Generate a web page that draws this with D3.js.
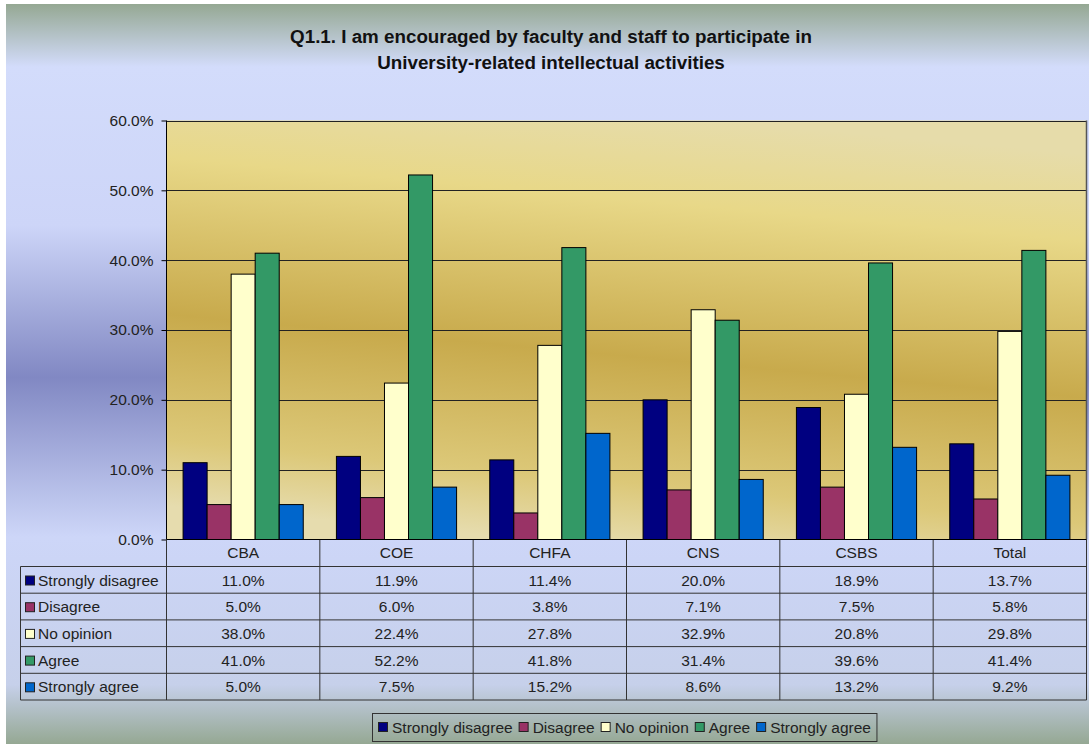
<!DOCTYPE html>
<html>
<head>
<meta charset="utf-8">
<script src="https://cdn.jsdelivr.net/npm/d3@7"></script>
<style>
  body { margin: 0; background: #fff; }
  svg { display: block; font-family: "Liberation Sans", Arial, sans-serif; }
</style>
</head>
<body>
<svg id="chart" width="1089" height="744"></svg>
<script>
var categories = ["CBA", "COE", "CHFA", "CNS", "CSBS", "Total"];
var seriesNames = ["Strongly disagree", "Disagree", "No opinion", "Agree", "Strongly agree"];
var stronglyDisagree = [11.0, 11.9, 11.4, 20.0, 18.9, 13.7];
var disagree = [5.0, 6.0, 3.8, 7.1, 7.5, 5.8];
var noOpinion = [38.0, 22.4, 27.8, 32.9, 20.8, 29.8];
var agree = [41.0, 52.2, 41.8, 31.4, 39.6, 41.4];
var stronglyAgree = [5.0, 7.5, 15.2, 8.6, 13.2, 9.2];
var yTicks = [0, 10, 20, 30, 40, 50, 60];
var colors = ["#000080", "#993366", "#ffffcc", "#339966", "#0066cc"];

var values = [stronglyDisagree, disagree, noOpinion, agree, stronglyAgree];

var svg = d3.select("#chart");
var defs = svg.append("defs");

// outer background gradient
var bg = defs.append("linearGradient").attr("id", "bg")
    .attr("x1", 0).attr("y1", 0).attr("x2", 0).attr("y2", 1);
[[0, "#95a893"], [0.085, "#d3dcfb"], [0.3, "#cdd5f8"], [0.505, "#8188c3"],
 [0.72, "#cdd6f8"], [0.92, "#c6d0ea"], [1, "#95a893"]].forEach(function(s) {
  bg.append("stop").attr("offset", s[0]).attr("stop-color", s[1]);
});

// plot area gradient
var pg = defs.append("linearGradient").attr("id", "plotbg")
    .attr("x1", 0.6).attr("y1", 0).attr("x2", 0.4).attr("y2", 1);
[[0, "#e6dcaa"], [0.2, "#e8d888"], [0.56, "#c8aa4c"], [0.85, "#dcc878"], [1, "#e6dcae"]].forEach(function(s) {
  pg.append("stop").attr("offset", s[0]).attr("stop-color", s[1]);
});

svg.append("rect").attr("x", 6).attr("y", 4).attr("width", 1083).attr("height", 740)
    .attr("fill", "url(#bg)");

var plotLeft = 166.5, plotRight = 1086.5, plotTop = 120.5, plotBottom = 539.5;
var fs = 15.5;

var x = d3.scaleBand().domain(categories).range([plotLeft, plotRight]).padding(0);
var xs = d3.scaleBand().domain(seriesNames).range([0, x.bandwidth()])
    .paddingInner(0).paddingOuter(0.69);
var y = d3.scaleLinear().domain([0, 60]).range([plotBottom, plotTop]);

// title
svg.append("text").attr("x", 551).attr("y", 43).attr("text-anchor", "middle")
    .attr("font-weight", "bold").attr("font-size", 18.8).attr("fill", "#111")
    .text("Q1.1. I am encouraged by faculty and staff to participate in");
svg.append("text").attr("x", 551).attr("y", 69).attr("text-anchor", "middle")
    .attr("font-weight", "bold").attr("font-size", 18.8).attr("fill", "#111")
    .text("University-related intellectual activities");

// plot area
svg.append("rect").attr("x", plotLeft).attr("y", plotTop)
    .attr("width", plotRight - plotLeft).attr("height", plotBottom - plotTop)
    .attr("fill", "url(#plotbg)");

svg.append("g").selectAll("line").data(yTicks.slice(1)).enter().append("line")
    .attr("x1", plotLeft).attr("x2", plotRight)
    .attr("y1", function(d) { return Math.round(y(d)) + 0.5; })
    .attr("y2", function(d) { return Math.round(y(d)) + 0.5; })
    .attr("stroke", "#222").attr("stroke-width", 1);

svg.append("line").attr("x1", plotRight).attr("x2", plotRight).attr("y1", plotTop).attr("y2", plotBottom)
    .attr("stroke", "#555").attr("stroke-width", 1.5);

// bars
var groups = svg.append("g").selectAll("g").data(seriesNames).enter().append("g")
    .attr("fill", function(d, i) { return colors[i]; });
groups.selectAll("rect")
    .data(function(d, i) { return values[i].map(function(v, j) { return {s: d, c: categories[j], v: v}; }); })
    .enter().append("rect")
    .attr("x", function(d) { return x(d.c) + xs(d.s); })
    .attr("y", function(d) { return y(d.v); })
    .attr("width", xs.bandwidth())
    .attr("height", function(d) { return plotBottom - y(d.v); })
    .attr("stroke", "#000").attr("stroke-width", 1);

// y axis
var yAxis = d3.axisLeft(y).tickValues(yTicks).tickSize(5).tickPadding(8)
    .tickFormat(function(d) { return d.toFixed(1) + "%"; });
var ya = svg.append("g").attr("transform", "translate(" + plotLeft + ",0)").call(yAxis);
ya.select(".domain").attr("stroke", "#000").attr("d", "M0," + plotTop + "V" + plotBottom);
ya.selectAll(".tick line").attr("stroke", "#000");
ya.selectAll("text").attr("font-size", fs).attr("fill", "#222")
    .attr("font-family", "Liberation Sans, Arial, sans-serif");

// data table
var tableLeft = 20.5, headTop = plotBottom, rowTop = 566.5, rowH = 26.7;
var tableBottom = rowTop + rowH * 5;
var tg = svg.append("g").attr("stroke", "#333").attr("stroke-width", 1).attr("fill", "none");
tg.append("line").attr("x1", plotLeft).attr("x2", plotLeft).attr("y1", headTop).attr("y2", tableBottom);
categories.forEach(function(c) {
  tg.append("line").attr("x1", x(c) + x.bandwidth()).attr("x2", x(c) + x.bandwidth())
      .attr("y1", headTop).attr("y2", tableBottom);
});
tg.append("line").attr("x1", tableLeft).attr("x2", tableLeft).attr("y1", rowTop).attr("y2", tableBottom);
d3.range(6).forEach(function(i) {
  tg.append("line").attr("x1", tableLeft).attr("x2", plotRight)
      .attr("y1", rowTop + rowH * i).attr("y2", rowTop + rowH * i);
});
tg.append("line").attr("x1", plotLeft).attr("x2", plotRight).attr("y1", plotBottom).attr("y2", plotBottom)
    .attr("stroke", "#000");

svg.append("g").selectAll("text").data(categories).enter().append("text")
    .attr("x", function(d) { return x(d) + x.bandwidth() / 2; })
    .attr("y", headTop + 18.5).attr("text-anchor", "middle")
    .attr("font-size", fs).attr("fill", "#222").text(function(d) { return d; });

seriesNames.forEach(function(s, i) {
  var ry = rowTop + rowH * i;
  svg.append("rect").attr("x", 25.5).attr("y", ry + 9.5).attr("width", 9).attr("height", 9)
      .attr("fill", colors[i]).attr("stroke", "#222");
  svg.append("text").attr("x", 38).attr("y", ry + 19).attr("font-size", fs).attr("fill", "#222").text(s);
  svg.append("g").selectAll("text").data(values[i]).enter().append("text")
      .attr("x", function(d, j) { return x(categories[j]) + x.bandwidth() / 2; })
      .attr("y", ry + 19).attr("text-anchor", "middle")
      .attr("font-size", fs).attr("fill", "#222")
      .text(function(d) { return d.toFixed(1) + "%"; });
});

// legend
var legend = svg.append("g");
var lx = 378, ly = 727;
var lbox = legend.append("rect").attr("x", 372.5).attr("y", 713.5).attr("height", 28)
    .attr("fill", "none").attr("stroke", "#333");
seriesNames.forEach(function(s, i) {
  legend.append("rect").attr("x", lx + 0.5).attr("y", ly - 4.5).attr("width", 9).attr("height", 9)
      .attr("fill", colors[i]).attr("stroke", "#222");
  var t = legend.append("text").attr("x", lx + 14).attr("y", ly + 5.5)
      .attr("font-size", fs).attr("fill", "#222").text(s);
  lx += 14 + t.node().getComputedTextLength() + 6;
});
lbox.attr("width", lx - 372.5);
</script>
</body>
</html>
